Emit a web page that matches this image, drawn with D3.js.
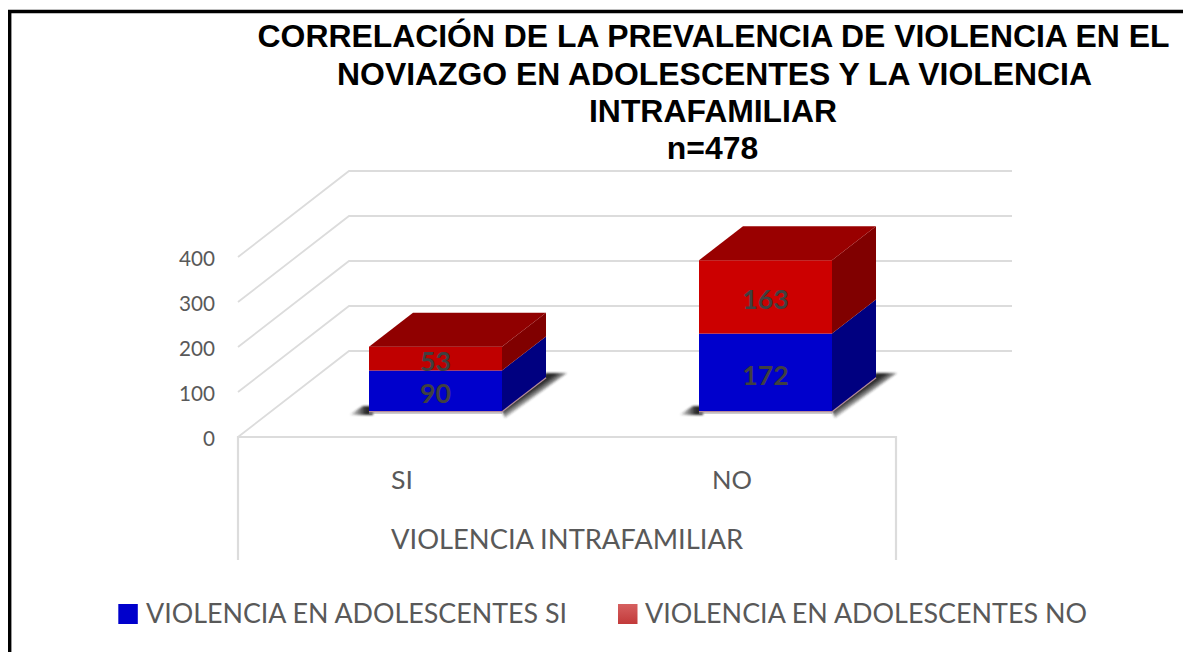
<!DOCTYPE html>
<html><head><meta charset="utf-8">
<script src="https://cdnjs.cloudflare.com/ajax/libs/d3/7.8.5/d3.min.js"></script>
<style>html,body{margin:0;padding:0;background:#fff;overflow:hidden}svg{display:block}</style>
</head><body><svg id="c" width="1183" height="652"></svg>
<script>
const categories = ["SI","NO"];
const seriesNames = ["VIOLENCIA EN ADOLESCENTES SI","VIOLENCIA EN ADOLESCENTES NO"];
const valuesSi = [90,172];
const valuesNo = [53,163];
const yTicks = [0,100,200,300,400];
const titleLines = ["CORRELACIÓN DE LA PREVALENCIA DE VIOLENCIA EN EL","NOVIAZGO EN ADOLESCENTES Y LA VIOLENCIA","INTRAFAMILIAR","n=478"];
const axisTitle = "VIOLENCIA INTRAFAMILIAR";

const svg = d3.select("#c");
const defs = svg.append("defs");
defs.append("filter").attr("id","blur").attr("x","-30%").attr("y","-50%").attr("width","160%").attr("height","200%")
  .append("feGaussianBlur").attr("stdDeviation",1.2);
const lg = defs.append("linearGradient").attr("id","lgRed").attr("x1",0).attr("y1",0).attr("x2",0).attr("y2",1);
lg.append("stop").attr("offset",0).attr("stop-color","#d66060");
lg.append("stop").attr("offset",1).attr("stop-color","#c23a3a");
const sr = defs.append("linearGradient").attr("id","shR").attr("x1",0).attr("y1",0).attr("x2",1).attr("y2",1);
sr.append("stop").attr("offset",0.42).attr("stop-color","#2a2a2a");
sr.append("stop").attr("offset",0.56).attr("stop-color","#2a2a2a").attr("stop-opacity",0);
const sl = defs.append("linearGradient").attr("id","shL").attr("x1",0).attr("y1",0).attr("x2",1).attr("y2",0);
sl.append("stop").attr("offset",0).attr("stop-color","#2a2a2a").attr("stop-opacity",0);
sl.append("stop").attr("offset",0.7).attr("stop-color","#2a2a2a");

// frame
svg.append("path").attr("d","M9.7,652V11.5H1183").attr("fill","none").attr("stroke","#000").attr("stroke-width",3.4);

// title
const ty=[47,85,122,159];
const tx=[713.5,714.5,713,712.5];
svg.append("g").selectAll("text").data(titleLines).join("text")
  .attr("x",(d,i)=>tx[i]).attr("y",(d,i)=>ty[i]).attr("text-anchor","middle")
  .attr("font-family","Liberation Sans").attr("font-weight","bold").attr("font-size",31.9).attr("fill","#000").text(d=>d);

// scales
const y = d3.scaleLinear().domain([0,400]).range([437,257]);
const backDx=111, backDy=-86;
const gridColor="#dcdcdc";
const font="Lato";

// gridlines
const grid=svg.append("g").attr("fill","none").attr("stroke",gridColor).attr("stroke-width",1.8);
grid.selectAll("path").data(yTicks).join("path")
  .attr("d",d=>{const v=y(d);return `M${238},${v}L${238+backDx},${v+backDy}H1012`;});
grid.append("path").attr("d","M238,560V437H896V560").attr("stroke-width",2.2);

// axis labels
svg.append("g").selectAll("text").data(yTicks).join("text")
  .attr("x",215).attr("y",d=>y(d)+9).attr("text-anchor","end")
  .attr("font-family",font).attr("font-size",21.5).attr("fill","#595959")
  .attr("textLength",d=>String(d).length*12).attr("lengthAdjust","spacingAndGlyphs").text(d=>d);
svg.append("g").selectAll("text").data(categories).join("text")
  .attr("x",(d,i)=>[391,712][i]).attr("y",489)
  .attr("font-family",font).attr("font-size",25).attr("fill","#595959")
  .attr("textLength",(d,i)=>[22,40][i]).attr("lengthAdjust","spacingAndGlyphs").text(d=>d);
svg.append("text").attr("x",391).attr("y",549)
  .attr("font-family",font).attr("font-size",26).attr("textLength",352).attr("lengthAdjust","spacingAndGlyphs").attr("fill","#595959").text(axisTitle);

// bars
const barLeft={SI:369,NO:699}, barW=133, dDx=44, dDy=-34, base=411, k=y(0)-y(1);
const rows=categories.map((c,i)=>({c,si:valuesSi[i],no:valuesNo[i],l:barLeft[c]}));
const bars=svg.append("g");
rows.forEach(r=>{
  const r0=r.l+barW, y0=base, y1=base-r.si*k, y2=y1-r.no*k;
  const g=bars.append("g");
  // shadows
  g.append("path").attr("d",`M${r0},${y0}L${r0+dDx},${y0+dDy-4}L${r0+dDx+21},${y0+dDy-4}L${r0+3},${y0+7}Z`)
    .attr("fill","url(#shR)").attr("filter","url(#blur)");
  g.append("path").attr("d",`M${r.l-20},${y0+4}L${r.l-6},${y0-5}H${r.l+4}V${y0+4}Z`)
    .attr("fill","url(#shL)").attr("filter","url(#blur)");
  g.append("rect").attr("x",r.l).attr("y",y0).attr("width",barW).attr("height",3).attr("fill","#999").attr("opacity",.5);
  // base edge
  g.append("path").attr("d",`M${r.l},${y0+.5}H${r0}L${r0+dDx},${y0+dDy+.5}`).attr("fill","none").attr("stroke","#b58a9a").attr("stroke-width",1.6);
  // front
  g.append("rect").attr("x",r.l).attr("y",y1).attr("width",barW).attr("height",y0-y1).attr("fill","#0000cc");
  g.append("rect").attr("x",r.l).attr("y",y2).attr("width",barW).attr("height",y1-y2).attr("fill",r.c==="SI"?"#c00000":"#cc0000");
  // sides
  g.append("path").attr("d",`M${r0},${y0}L${r0+dDx},${y0+dDy}V${y1+dDy}L${r0},${y1}Z`).attr("fill","#000080");
  g.append("path").attr("d",`M${r0},${y1}L${r0+dDx},${y1+dDy}V${y2+dDy}L${r0},${y2}Z`).attr("fill","#800000");
  // top
  g.append("path").attr("d",`M${r.l},${y2}L${r.l+dDx},${y2+dDy}H${r0+dDx}L${r0},${y2}Z`).attr("fill",r.c==="SI"?"#900000":"#990000");
  // labels
  const lab=(v,cy)=>g.append("text").attr("x",r.l+barW/2).attr("y",cy+12.3).attr("text-anchor","middle")
    .attr("font-family",font).attr("font-weight",700).attr("font-size",27.5).attr("fill","#404040")
    .attr("textLength",String(v).length*15.5).attr("lengthAdjust","spacingAndGlyphs").text(v);
  lab(r.si,(y0+y1)/2); lab(r.no,(y1+y2)/2);
});

// legend
const leg=svg.append("g");
[[118.3,146,"#0000cc"],[618,645,"url(#lgRed)"]].forEach((p,i)=>{
  leg.append("rect").attr("x",p[0]).attr("y",604).attr("width",19.5).attr("height",20).attr("fill",p[2]);
  leg.append("text").attr("x",p[1]).attr("y",623).attr("font-family",font).attr("font-size",26)
    .attr("textLength",i?442:421).attr("lengthAdjust","spacingAndGlyphs").attr("fill","#595959").text(seriesNames[i]);
});
</script></body></html>
